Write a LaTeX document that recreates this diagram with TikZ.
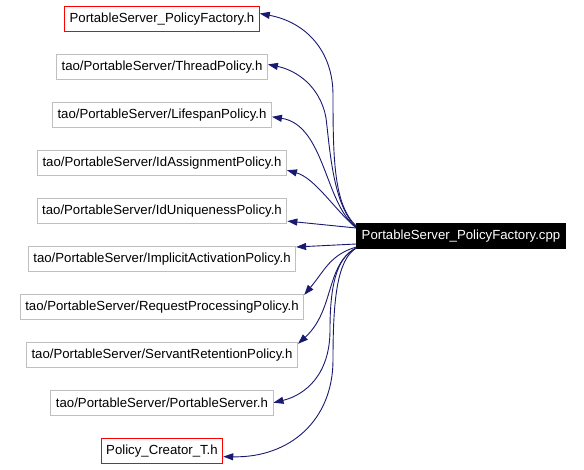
\documentclass[tikz,border=0pt]{standalone}
\usepackage{fontspec}
\setmainfont{Liberation Sans}
\usetikzlibrary{arrows.meta,positioning}
\definecolor{edgeblue}{RGB}{25,25,112}
\begin{document}
\begin{tikzpicture}[x=1pt,y=-1pt,font=\fontsize{13.2}{15}\selectfont,file/.style={draw=black!25,line width=1pt,minimum height=25pt,inner xsep=5pt,inner ysep=0pt},redfile/.style={file,draw=red},dep/.style={draw=edgeblue,line width=0.9pt,-{Triangle[length=10pt,width=7pt]}},node distance=21.9pt]
\useasboundingbox (0,0) rectangle (584,470);
\node[redfile] at (162,19.5) (factoryh) {PortableServer\_PolicyFactory.h};
\node[file,below=of factoryh] (thread) {tao/PortableServer/ThreadPolicy.h};
\node[file,below=of thread] (lifespan) {tao/PortableServer/LifespanPolicy.h};
\node[file,below=of lifespan] (idassign) {tao/PortableServer/IdAssignmentPolicy.h};
\node[file,below=of idassign] (idunique) {tao/PortableServer/IdUniquenessPolicy.h};
\node[file,below=of idunique] (implicit) {tao/PortableServer/ImplicitActivationPolicy.h};
\node[file,below=of implicit] (reqproc) {tao/PortableServer/RequestProcessingPolicy.h};
\node[file,below=of reqproc] (servant) {tao/PortableServer/ServantRetentionPolicy.h};
\node[file,below=of servant] (portable) {tao/PortableServer/PortableServer.h};
\node[redfile,below=of portable] (creator) {Policy\_Creator\_T.h};
\node[file,draw=black,fill=black,text=white] at (461,236) (factorycpp) {PortableServer\_PolicyFactory.cpp};
\draw[dep] ([yshift=10pt]factorycpp.west) .. controls (334,205) and (333,160) .. (333,95) .. controls (333,50) and (305,22) .. ([yshift=6pt]factoryh.east);
\draw[dep] ([yshift=9pt]factorycpp.west) .. controls (333,205) and (330,150) .. (326,118) .. controls (320,85) and (295,70) .. ([yshift=3pt]thread.east);
\draw[dep] ([yshift=9pt]factorycpp.west) .. controls (325,205) and (325,125) .. ([yshift=-1.5pt]lifespan.east);
\draw[dep] ([yshift=8pt]factorycpp.west) .. controls (335,210) and (315,178) .. ([yshift=-7pt]idassign.east);
\draw[dep] ([yshift=8pt]factorycpp.west) -- ([yshift=-10pt]idunique.east);
\draw[dep] ([yshift=-8pt]factorycpp.west) -- ([yshift=12pt]implicit.east);
\draw[dep] ([yshift=-11pt]factorycpp.west) .. controls (330,255) and (325,270) .. ([yshift=12pt]reqproc.east);
\draw[dep] ([yshift=-12pt]factorycpp.west) .. controls (325,265) and (335,310) .. ([yshift=11pt]servant.east);
\draw[dep] ([yshift=-12pt]factorycpp.west) .. controls (335,258) and (330,290) .. (330,330) .. controls (330,375) and (305,395) .. (portable.east);
\draw[dep] ([yshift=-12pt]factorycpp.west) .. controls (337,260) and (333,300) .. (333,360) .. controls (333,420) and (290,458) .. ([yshift=-6pt]creator.east);
\end{tikzpicture}
\end{document}
